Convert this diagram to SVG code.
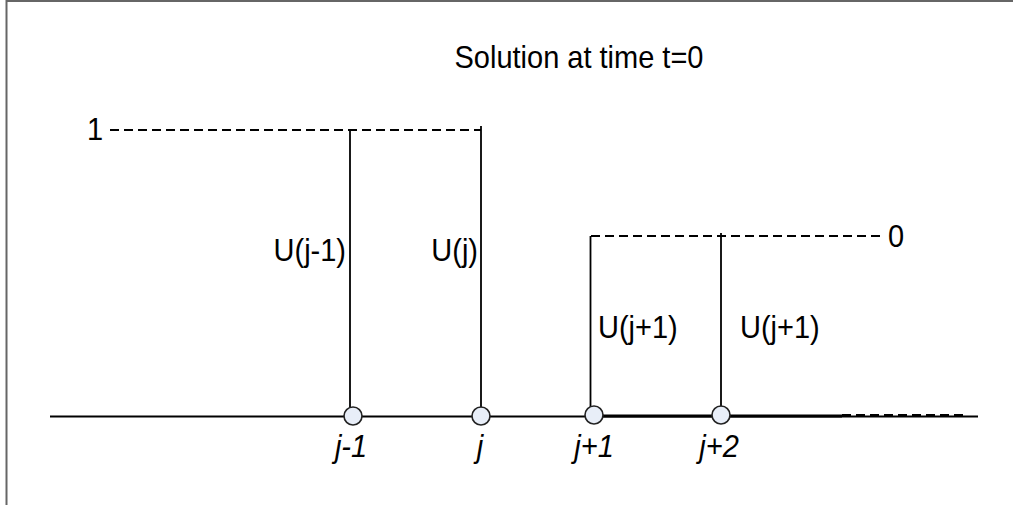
<svg xmlns="http://www.w3.org/2000/svg" width="1013" height="505" viewBox="0 0 1013 505">
<style>
.t{font-family:"Liberation Sans",Arial,sans-serif;font-size:29px;fill:#000}
.i{font-style:italic}
.ln{stroke:#000;stroke-width:1.8;fill:none}
.ds{stroke:#000;stroke-width:1.8;fill:none;stroke-dasharray:9,5}
.nd{fill:#e8eef8;stroke:#222;stroke-width:1.6}
</style>
<rect width="1013" height="505" fill="#fff"/>
<path d="M6.5,505 V1 H1013" fill="none" stroke="#666" stroke-width="2"/>
<text class="t" transform="translate(579,68) scale(1,1.07)" text-anchor="middle">Solution at time t=0</text>
<g id="connectors">
<line x1="50" y1="416.5" x2="978" y2="416.5" stroke="#000" stroke-width="2"/>
<line x1="594" y1="416" x2="842" y2="416" stroke="#000" stroke-width="3"/>
<line x1="842" y1="415" x2="968" y2="415" stroke="#000" stroke-width="2" stroke-dasharray="9,5"/>
<line class="ds" x1="110" y1="130" x2="481" y2="130"/>
<line class="ln" x1="350" y1="131" x2="350" y2="416"/>
<line class="ln" x1="481" y1="126" x2="481" y2="416"/>
<line class="ds" x1="591" y1="236" x2="885" y2="236"/>
<line class="ln" x1="590.5" y1="236" x2="590.5" y2="416"/>
<line class="ln" x1="721" y1="233" x2="721" y2="416"/>
</g>
<g id="level1"><text class="t" transform="translate(87,140) scale(1,1.07)">1</text></g>
<g id="level0"><text class="t" transform="translate(888,247) scale(1,1.07)">0</text></g>
<g id="label-uj-1"><text class="t" transform="translate(346,261) scale(1,1.07)" text-anchor="end">U(j-1)</text></g>
<g id="label-uj"><text class="t" transform="translate(478,261) scale(1,1.07)" text-anchor="end">U(j)</text></g>
<g id="label-uj+1a"><text class="t" transform="translate(598,338) scale(1,1.07)">U(j+1)</text></g>
<g id="label-uj+1b"><text class="t" transform="translate(740,338) scale(1,1.07)">U(j+1)</text></g>
<g id="node-j-1"><circle class="nd" cx="353" cy="416" r="9"/><text class="t i" transform="translate(351,457) scale(1,1.07)" text-anchor="middle">j-1</text></g>
<g id="node-j"><circle class="nd" cx="481" cy="416" r="9"/><text class="t i" transform="translate(480,457) scale(1,1.07)" text-anchor="middle">j</text></g>
<g id="node-j+1"><circle class="nd" cx="594" cy="415" r="9"/><text class="t i" transform="translate(594,457) scale(1,1.07)" text-anchor="middle">j+1</text></g>
<g id="node-j+2"><circle class="nd" cx="721" cy="415" r="9"/><text class="t i" transform="translate(719,457) scale(1,1.07)" text-anchor="middle">j+2</text></g>
</svg>
